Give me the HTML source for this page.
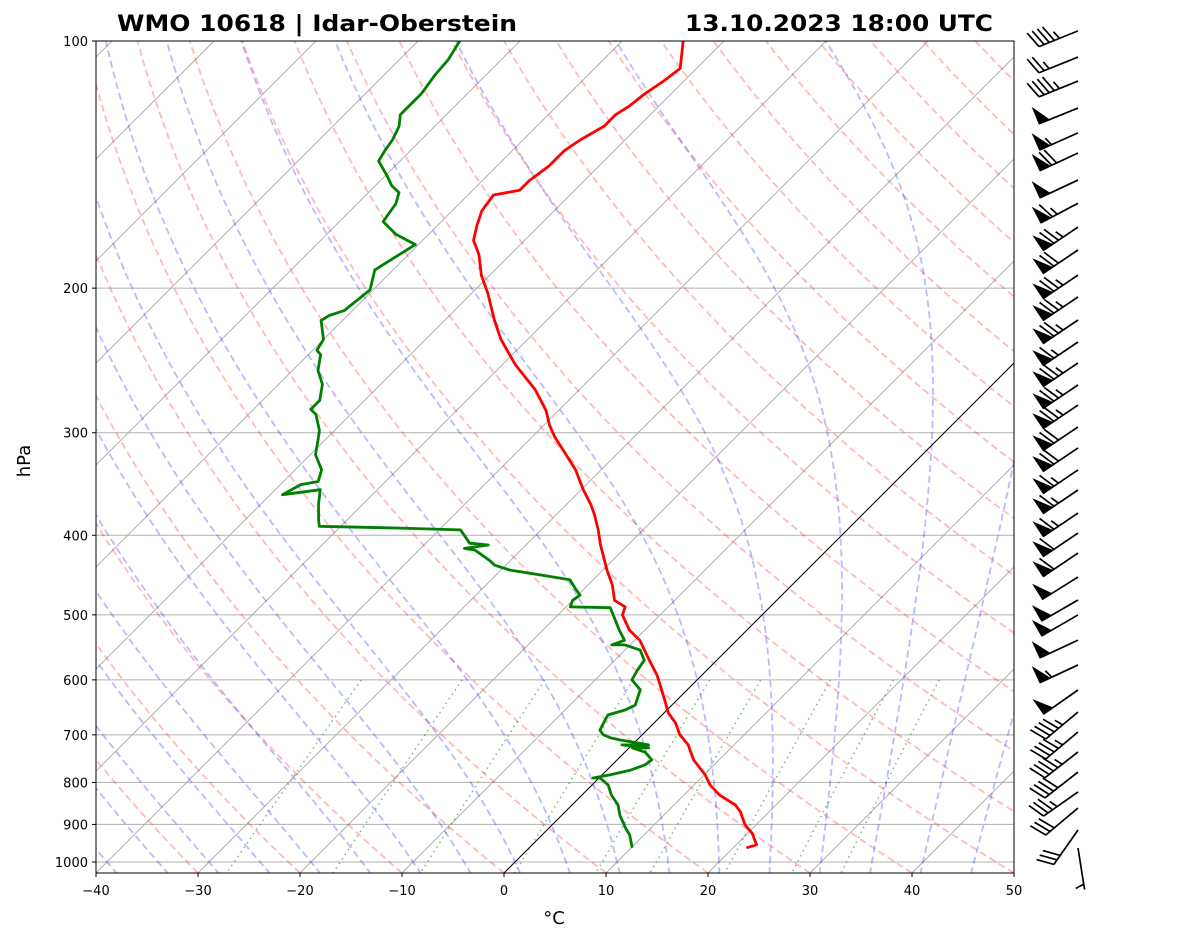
<!DOCTYPE html>
<html><head><meta charset="utf-8"><style>
html,body{margin:0;padding:0;background:#fff;}
svg{display:block;font-family:"DejaVu Sans","Liberation Sans",sans-serif;}
</style></head><body>
<svg id="chart" width="1181" height="941" viewBox="0 0 1181 941" xmlns="http://www.w3.org/2000/svg">
<defs><clipPath id="clip"><rect x="96" y="41" width="918" height="832"/></clipPath></defs>
<rect x="0" y="0" width="1181" height="941" fill="#fff"/>
<g id="bg" clip-path="url(#clip)"></g>
<g id="prof" clip-path="url(#clip)"></g>
<rect x="96" y="41" width="918" height="832" fill="none" stroke="#000" stroke-width="1"/>
<g id="axes"></g>
<g id="barbs"></g>
<text x="117" y="31" font-size="22" font-weight="bold" textLength="400" lengthAdjust="spacingAndGlyphs">WMO 10618 | Idar-Oberstein</text>
<text x="993" y="31" font-size="22" font-weight="bold" text-anchor="end" textLength="308" lengthAdjust="spacingAndGlyphs">13.10.2023 18:00 UTC</text>
<text x="30" y="461" font-size="18" text-anchor="middle" transform="rotate(-90 30 461)">hPa</text>
<text x="554" y="924" font-size="18" text-anchor="middle">°C</text>
</svg>
<script>
const tempP=[961,953,922,901,869,852,829,806,783,751,720,700,677,658,635,609,592,568,537,522,500,489,480,460,441,411,394,378,367,352,333,317,304,294,282,266,248,231,219,203,193,182,175,168,161,154,152,148,142,136,132,127,123,120,116,112,108,100];
const tempC=[21.3,22.0,20.4,18.9,17.2,16.0,13.5,11.6,10.1,7.5,5.5,3.7,2.1,0.4,-1.2,-3.1,-4.4,-6.6,-9.5,-11.5,-13.7,-14.2,-15.9,-17.6,-19.6,-22.7,-24.4,-26.2,-27.6,-29.8,-32.5,-35.3,-37.7,-39.4,-41.2,-44.3,-48.7,-52.6,-55.1,-58.4,-60.8,-63.1,-65.0,-66.1,-67.1,-67.5,-65.4,-65.4,-64.9,-64.9,-64.4,-63.4,-63.4,-62.9,-62.6,-62.0,-61.6,-64.0];
const dewP=[961,927,909,877,852,829,806,790,790,783,773,762,751,735,726,726,720,720,710,706,700,691,671,662,653,644,617,600,584,568,552,544,544,537,522,500,490,489,480,473,466,453,447,441,435,429,417,415,411,409,400,394,392,390,383,367,352,357,347,344,333,319,306,298,285,281,274,262,252,241,238,231,219,216,213,201,190,177,172,166,163,158,153,150,146,140,136,132,127,123,116,110,105.5,100];
const dewC=[10.1,8.6,7.5,5.7,4.5,2.9,1.6,0.1,-0.6,0.8,2.3,3.2,3.4,2.0,0.3,1.9,-1.0,1.6,-1.7,-2.8,-3.8,-4.6,-5.1,-5.3,-4.1,-3.6,-4.6,-6.4,-6.8,-7.1,-8.5,-10.5,-11.8,-11.0,-12.5,-14.6,-15.6,-19.6,-20.0,-19.8,-20.7,-22.3,-25.7,-29.1,-31.1,-32.1,-34.5,-35.7,-33.7,-35.7,-37.0,-37.9,-44.0,-52.1,-52.8,-54.3,-55.6,-58.8,-58.0,-56.6,-57.4,-59.5,-60.7,-61.5,-63.4,-64.4,-64.4,-65.7,-67.5,-68.8,-69.6,-70.0,-72.1,-71.8,-70.8,-70.3,-71.8,-70.3,-73.2,-75.7,-75.9,-76.2,-77.0,-78.4,-79.8,-82.1,-82.5,-82.8,-83.5,-84.5,-84.5,-85.0,-85.2,-85.9];
const barbP=[97.2,104.6,111.9,120.7,129.4,136.9,147.7,157.6,168.5,179.7,192.8,205,218.7,232.6,246.7,262.4,277.6,295.2,313.1,333,352.3,375.8,397.5,420.4,449.7,479.6,500.1,536.7,575.4,617.3,656.6,694.5,734.5,777,821.7,859.5,914.2,961.6];
const barbSpd=[45,25,45,50,55,70,50,65,75,70,75,75,75,65,75,75,75,70,70,65,65,65,60,60,50,50,50,50,55,50,45,45,45,40,35,30,30,5];
const barbDir=[248,248,248,248,246,245,245,242,236,236,236,236,236,236,236,236,236,236,236,236,236,236,236,236,238,240,240,245,245,235,230,230,232,232,235,230,215,171];
const yTicks=[100,200,300,400,500,600,700,800,900,1000];
const xTicks=[-40,-30,-20,-10,0,10,20,30,40,50];

const NS="http://www.w3.org/2000/svg";
const X0=96,X1=1014,Y0=41,Y1=873,PXC=10.2,DEC=821;
function yOf(p){return Y0+DEC*Math.log10(p/100);}
function xOf(t,p){const y=yOf(p);return X0+(t+40)*PXC+(Y1-y);}
function mk(tag,attrs,parent){const e=document.createElementNS(NS,tag);for(const k in attrs)e.setAttribute(k,attrs[k]);parent.appendChild(e);return e;}
function pathD(pts){return pts.map((q,i)=>(i?'L':'M')+q[0].toFixed(1)+','+q[1].toFixed(1)).join('');}
const bg=document.getElementById('bg'),prof=document.getElementById('prof'),axes=document.getElementById('axes'),barbs=document.getElementById('barbs');
const PBOT=100*Math.pow(10,(Y1-Y0)/DEC);

yTicks.forEach(p=>{const y=yOf(p);
 const l=mk('line',{x1:X0,x2:X1,y1:y,y2:y,stroke:'#b0b0b0','stroke-width':1},bg);
 
 
});
for(let t=-130;t<=50;t+=10){
 const l=mk('line',{x1:X0+(t+40)*PXC,y1:Y1,x2:X0+(t+40)*PXC+(Y1-Y0),y2:Y0,stroke:t===0?'#000':'#a8a8a8','stroke-width':t===0?1:0.9},bg);
 
 
}
const presArr=[];for(let i=0;i<=80;i++){presArr.push(PBOT*Math.pow(100/PBOT,i/80));}
for(let t0=-40;t0<=200;t0+=10){
 const pts=presArr.map(p=>{const T=(t0+273.15)*Math.pow(p/PBOT,0.2857)-273.15;return [xOf(T,p),yOf(p)];});
 const e=mk('path',{d:pathD(pts),fill:'none',stroke:'#ff0000','stroke-opacity':0.27,'stroke-width':1.8,'stroke-dasharray':'7,4'},bg);
 
 
}
function es(tc){return 6.112*Math.exp(17.67*tc/(tc+243.5));}
function dTdp(T,p){const Rd=287.04,Cp=1005.7,Lv=2.501e6,eps=0.622;const e=es(T-273.15);const rs=eps*e/(p-e);
 return (Rd*T+Lv*rs)/(p*(Cp+Lv*Lv*rs*eps/(Rd*T*T)));}
for(let t0=-40;t0<=45;t0+=5){
 let T=t0+273.15,p=1000;const up=[];
 while(p>99){up.push([xOf(T-273.15,p),yOf(p)]);const dp=-5;T+=dTdp(T,p)*dp;p+=dp;}
 T=t0+273.15;p=1000;const dn=[];
 while(p<PBOT+5){dn.push([xOf(T-273.15,p),yOf(p)]);const dp=5;T+=dTdp(T,p)*dp;p+=dp;}
 const all=dn.reverse().concat(up.slice(1));
 const e=mk('path',{d:pathD(all),fill:'none',stroke:'#0000ff','stroke-opacity':0.27,'stroke-width':1.8,'stroke-dasharray':'7,4'},bg);
 
 
}
[0.0004,0.001,0.002,0.004,0.007,0.01,0.016,0.024,0.032].forEach(w=>{
 const pts=[];for(let i=0;i<=20;i++){const p=600+(PBOT-600)*i/20;const e=w*p/(0.622+w);const l=Math.log(e/6.112);const td=243.5*l/(17.67-l);pts.push([xOf(td,p),yOf(p)]);}
 const e=mk('path',{d:pathD(pts),fill:'none',stroke:'#008000','stroke-opacity':0.5,'stroke-width':1.6,'stroke-dasharray':'1.5,4'},bg);
 
 
});
const tPath=mk('path',{d:pathD(tempP.map((p,i)=>[xOf(tempC[i],p),yOf(p)])),fill:'none',stroke:'#ff0000','stroke-width':2.8,'stroke-linejoin':'round'},prof);


const dPath=mk('path',{d:pathD(dewP.map((p,i)=>[xOf(dewC[i],p),yOf(p)])),fill:'none',stroke:'#008000','stroke-width':2.8,'stroke-linejoin':'round'},prof);


yTicks.forEach(p=>{const y=yOf(p);
 mk('line',{x1:X0-4,x2:X0,y1:y,y2:y,stroke:'#000'},axes);
 const t=mk('text',{x:X0-8,y:y+5,'font-size':13,'text-anchor':'end'},axes);t.textContent=p;
 
 
});
xTicks.forEach(v=>{const x=X0+(v+40)*PXC;
 mk('line',{x1:x,x2:x,y1:Y1,y2:Y1+4,stroke:'#000'},axes);
 const t=mk('text',{x:x,y:Y1+22,'font-size':13,'text-anchor':'middle'},axes);t.textContent=(v<0?'\u2212':'')+Math.abs(v);
 
 
});
const SX=1078,L=42,H=17,FW=11,SP=5.5;
barbP.forEach((p,i)=>{
 const g=mk('g',{},barbs);
 
 
 const sy=yOf(p),d=barbDir[i]*Math.PI/180;
 const ux=Math.sin(d),uy=-Math.cos(d);const nx=-uy,ny=ux;
 const ex=SX+ux*L,ey=sy+uy*L;
 mk('line',{x1:SX,y1:sy,x2:ex,y2:ey,stroke:'#000','stroke-width':1.7},g);
 let s=Math.round(barbSpd[i]/5)*5;const nf=Math.floor(s/50);s-=nf*50;const nb=Math.floor(s/10);const half=(s-nb*10)>=5;
 let pos=0;
 for(let k=0;k<nf;k++){
  const a=[ex-ux*pos,ey-uy*pos],b=[ex-ux*(pos+FW),ey-uy*(pos+FW)],c=[ex-ux*pos+nx*H,ey-uy*pos+ny*H];
  mk('polygon',{points:[a,b,c].map(q=>q[0].toFixed(1)+','+q[1].toFixed(1)).join(' '),fill:'#000',stroke:'#000','stroke-width':1},g);
  pos+=FW+2;
 }
 for(let k=0;k<nb;k++){
  const px=ex-ux*pos,py=ey-uy*pos;
  mk('line',{x1:px,y1:py,x2:px+nx*H+ux*H*0.35,y2:py+ny*H+uy*H*0.35,stroke:'#000','stroke-width':1.7},g);
  pos+=SP;
 }
 if(half){if(nf===0&&nb===0)pos+=SP;
  const px=ex-ux*pos,py=ey-uy*pos;
  mk('line',{x1:px,y1:py,x2:px+nx*H*0.5+ux*H*0.18,y2:py+ny*H*0.5+uy*H*0.18,stroke:'#000','stroke-width':1.7},g);
 }
});
</script>
</body></html>
